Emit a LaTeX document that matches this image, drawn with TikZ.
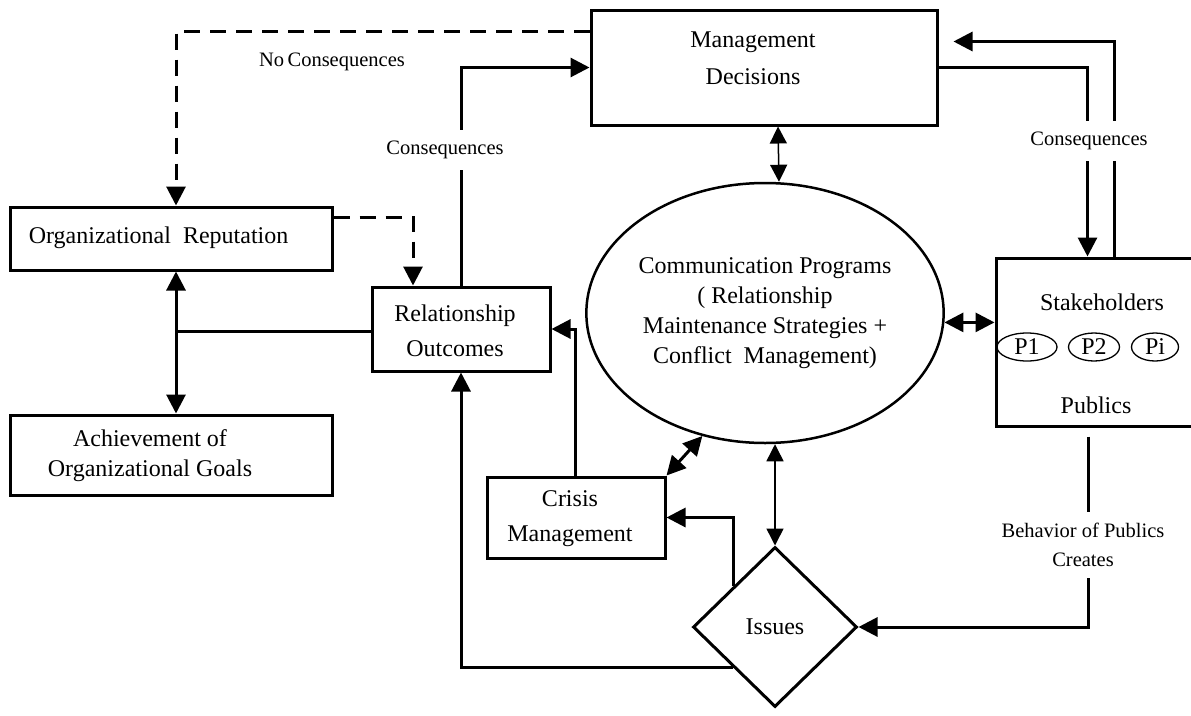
\documentclass[tikz,border=0pt]{standalone}
\usepackage{fontspec}
\setmainfont{Liberation Serif}
\usetikzlibrary{positioning, arrows.meta, shapes.geometric, calc}

\begin{document}
\begin{tikzpicture}[x=1pt, y=-1pt,
      line width = 3pt,
       box/.style = {rectangle, draw, line width=3pt, inner sep=0pt},
       txt/.style = {align=center, font=\fontsize{24}{35}\selectfont},
       lbl/.style = {fill=white, inner xsep=4pt, inner ysep=11pt, font=\fontsize{20.5}{29}\selectfont},
       arr/.style = {-{Triangle[length=19pt,width=19pt]}, line width=3pt},
      darr/.style = {{Triangle[length=19pt,width=19pt]}-{Triangle[length=19pt,width=19pt]}, line width=3pt},
     tdarr/.style = {{Triangle[length=17pt,width=17pt]}-{Triangle[length=17pt,width=17pt]}, line width=1.5pt},
       dsh/.style = {dash pattern=on 16pt off 10pt},
       pub/.style = {ellipse, draw, line width=1.3pt, inner sep=0pt, minimum height=28pt, font=\fontsize{24}{24}\selectfont}
                        ]
\useasboundingbox (0,0) rectangle (1191,715);
% boxes
\node (mgmt)[box, minimum width=346pt, minimum height=115pt] at (764,67.5) {};
\node (mgmtT)[txt, font=\fontsize{24}{37}\selectfont] at (753,58) {Management\\Decisions};
\node (orgrep)[box, minimum width=322pt, minimum height=63pt] at (171,238.5) {};
\node (orgrepT)[txt, anchor=west] at (24,238) {Organizational\ \ Reputation};
\node (achieve)[box, minimum width=322pt, minimum height=80pt] at (171,455) {};
\node (achieveT)[txt, font=\fontsize{24}{30}\selectfont] at (150,456) {Achievement of\\Organizational Goals};
\node (rel)[box, minimum width=178pt, minimum height=84pt] at (461,329) {};
\node (relT)[txt] at (455,331) {Relationship\\Outcomes};
\node (crisis)[box, minimum width=178pt, minimum height=81pt] at (576,517.5) {};
\node (crisisT)[txt] at (570,519) {Crisis\\Management};
\node (comm)[ellipse, draw, line width=2.5pt, inner sep=0pt, minimum width=350pt, minimum height=260pt,
             txt, font=\fontsize{24}{30}\selectfont] at (765,313)
   {Communication Programs\\( Relationship\\Maintenance Strategies +\\Conflict\ \ Management)};
\node (issues)[diamond, draw, line width=3pt, inner sep=0pt, minimum width=164pt, minimum height=160pt,
               txt] at (775,627) {Issues};
\node (stake)[box, minimum width=214pt, minimum height=168pt] at (1103,342) {};
\node (stakeT)[txt] at (1102,302) {Stakeholders};
\node (p1)[pub, minimum width=60pt] at (1027,347) {P1};
\node (p2)[pub, minimum width=51pt] at (1094,347) {P2};
\node (pi)[pub, minimum width=47pt] at (1155,347) {Pi};
\node (pubT)[txt] at (1096,405) {Publics};
% connectors
\draw[arr, dsh] (mgmt.west |- 0,31) -| (orgrep.north -| 176,0);
\node (nocons)[font=\fontsize{20.5}{24}\selectfont] at (332,62) {No\,Consequences};
\draw[arr, dsh] (orgrep.east |- 0,217) -| (rel.north -| 413,0);
\draw[arr] (rel.north) |- (mgmt.west);
\node (cons1)[lbl] at (445,150) {Consequences};
\coordinate (jn) at (176,331);
\draw (rel.west |- jn) -- (jn);
\draw[arr] (jn) -- (orgrep.south -| jn);
\draw[arr] (jn) -- (achieve.north -| jn);
\draw[arr] (crisis.north -| 575,0) |- (rel.east);
\draw[arr] (issues.south west) -| (rel.south);
\draw[arr] (issues.north west) |- (crisis.east);
\draw[tdarr] ($(mgmt.south)+(14,0)$) -- ($(comm.north)+(14,0)$);
\draw[tdarr] (comm.south -| issues.north) -- (issues.north);
\draw[darr] (crisis.north east) -- (comm.243);
\draw[darr] (comm.-3) -- (comm.-3 -| stake.west);
\draw[arr] (mgmt.east) -| ($(stake.north west)+(93,0)$);
\draw[arr] ($(stake.north west)+(120,0)$) |- ($(mgmt.north east)+(15,33)$);
\node (cons2)[lbl] at (1089,141) {Consequences};
\draw[arr, shorten <=9pt] ($(stake.south west)+(94,0)$) |- (issues.east);
\node (behav)[lbl, align=center] at (1083,545) {Behavior of Publics\\Creates};
\end{tikzpicture}
\end{document}
